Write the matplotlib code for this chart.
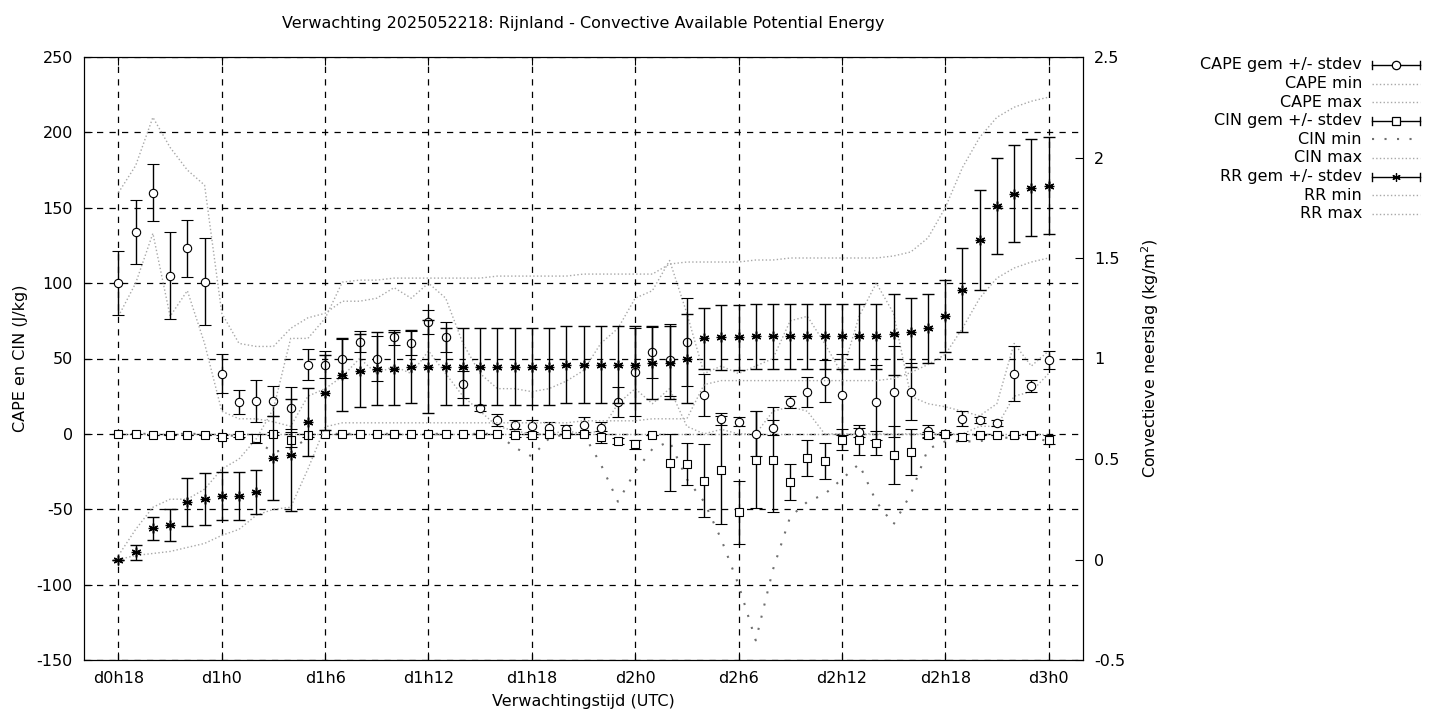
import matplotlib
matplotlib.use("Agg")
import matplotlib.pyplot as plt
from matplotlib.lines import Line2D
import numpy as np

hours = list(range(18, 73))

cape_mean = [100,134,160,105,123,101,40,21,22,22,17,46,46,50,61,50,64,60,74,64,
             33,17,9,6,5,4,3,6,4,21,41,54,49,61,26,10,8,0,4,21,28,35,26,1,21,28,28,
             2,0,10,9,7,40,32,49]
cape_sd = [21,21,19,29,19,29,13,8,14,10,14,10,9,13,7,15,5,8,8,10,
           9,2,4,3,4,4,3,5,4,10,29,17,24,29,14,4,3,15,5,4,10,14,27,3,25,30,19,
           4,1,5,2,2,18,4,6]
cape_min = [78,100,133,78,95,60,15,10,10,8,5,25,30,38,50,40,45,40,55,40,
            25,15,5,2,0,0,2,0,2,20,30,20,30,5,0,3,0,0,15,18,15,0,0,0,0,0,0,
            0,0,0,5,5,25,28,40]
cape_max = [160,178,210,190,175,165,80,60,58,58,70,77,80,88,88,90,97,90,100,90,
            60,40,30,30,28,30,35,42,60,70,90,95,115,80,40,45,40,45,50,75,78,60,40,78,100,80,
            25,20,18,15,12,20,60,45,55]

cin_mean = [0,0,-1,-1,-1,-1,-2,-1,-3,0,-4,-1,0,0,0,0,0,0,0,0,
            0,0,0,-1,-1,0,0,0,-2,-5,-7,-1,-19,-20,-31,-24,-52,-17,-17,-32,-16,-18,-4,-4,-6,-14,-12,
            -1,0,-2,-1,-1,-1,-1,-4]
cin_sd = [0,0,0,0,0,0,1,1,3,1,5,1,0,0,0,0,0,0,0,0,
          0,0,0,1,1,0,0,0,4,2,3,0,19,14,24,36,21,32,35,12,12,12,7,10,8,19,15,
          2,0,2,0,0,0,0,3]
cin_min = [0,0,0,0,0,0,0,-2,-5,-12,-10,-3,0,0,0,0,0,0,0,0,
           0,0,0,-9,-15,-3,0,0,-20,-45,-25,-10,-5,-30,-45,-70,-100,-137,-90,-55,-45,-40,-30,-20,-45,-60,-40,
           -10,-5,-5,-5,-2,-3,-2,-5]
cin_max = [0]*55

rr_mean = [0.0,0.037,0.155,0.17,0.286,0.30,0.315,0.315,0.334,0.505,0.52,0.685,0.83,0.92,0.94,0.95,0.95,0.96,0.96,0.96,
           0.96,0.96,0.96,0.96,0.96,0.96,0.97,0.97,0.97,0.97,0.97,0.98,0.98,1.0,1.1,1.105,1.105,1.11,1.11,1.11,1.11,1.11,1.11,1.11,1.11,1.12,1.13,
           1.15,1.21,1.34,1.59,1.76,1.82,1.85,1.86]
rr_sd = [0,0.037,0.058,0.079,0.12,0.13,0.12,0.12,0.11,0.21,0.28,0.17,0.185,0.18,0.18,0.18,0.18,0.18,0.23,0.19,
         0.19,0.19,0.19,0.19,0.19,0.19,0.19,0.19,0.19,0.19,0.19,0.18,0.18,0.22,0.15,0.16,0.16,0.16,0.16,0.16,0.16,0.16,0.16,0.16,0.16,0.2,0.17,
         0.17,0.18,0.21,0.25,0.24,0.24,0.24,0.24]
rr_min = [0,0.02,0.03,0.04,0.06,0.08,0.12,0.15,0.22,0.25,0.26,0.45,0.66,0.68,0.68,0.68,0.68,0.68,0.68,0.68,
          0.68,0.68,0.68,0.68,0.68,0.68,0.68,0.69,0.69,0.69,0.69,0.7,0.7,0.7,0.87,0.89,0.89,0.89,0.89,0.89,0.89,0.89,0.89,0.89,0.89,0.9,0.93,
          0.97,1.02,1.15,1.3,1.4,1.45,1.48,1.5]
rr_max = [0.02,0.15,0.26,0.3,0.3,0.35,0.45,0.5,0.6,0.75,1.1,1.1,1.2,1.38,1.39,1.39,1.4,1.4,1.4,1.4,
          1.4,1.4,1.41,1.41,1.41,1.41,1.41,1.42,1.42,1.42,1.42,1.42,1.47,1.48,1.48,1.48,1.48,1.49,1.49,1.5,1.5,1.5,1.5,1.5,1.5,1.51,1.53,
          1.6,1.75,1.95,2.1,2.2,2.25,2.28,2.3]

xtick_hours = [18,24,30,36,42,48,54,60,66,72]
xtick_labels = ["d0h18","d1h0","d1h6","d1h12","d1h18","d2h0","d2h6","d2h12","d2h18","d3h0"]

plt.rcParams['font.family'] = ['DejaVu Sans']
plt.rcParams['axes.unicode_minus'] = False
fig = plt.figure(figsize=(14.4, 7.2), dpi=100)
ax = fig.add_axes([84/1440, 60/720, 999/1440, 603/720])
ax2 = ax.twinx()

gray = '#a8a8a8'
ax.plot(hours, cape_min, ls=':', color=gray, lw=1, zorder=1)
ax.plot(hours, cape_max, ls=':', color=gray, lw=1, zorder=1)
ax.plot(hours, cin_min, ls=(0,(1,5)), color='#707070', lw=1.5, zorder=1)
ax.plot(hours, cin_max, ls=':', color=gray, lw=1, zorder=1)
ax2.plot(hours, rr_min, ls=':', color=gray, lw=1, zorder=1)
ax2.plot(hours, rr_max, ls=':', color=gray, lw=1, zorder=1)

ekw = dict(color='black', ecolor='black', elinewidth=1, capsize=4, capthick=1, ls='none')
ax.errorbar(hours, cape_mean, yerr=cape_sd, marker='o', ms=6, mfc='white', mec='black', mew=0.8, zorder=3, **ekw)
ax.errorbar(hours, cin_mean, yerr=cin_sd, marker='s', ms=6, mfc='white', mec='black', mew=0.8, zorder=3, **ekw)
ax2.errorbar(hours, rr_mean, yerr=rr_sd, marker=(6,2,0), ms=7, mec='black', mew=1, zorder=3, **ekw)
ax2.plot(hours, rr_mean, marker='+', ms=7, mec='black', mew=1, ls='none', zorder=4)

ax.set_xlim(16, 74)
ax.set_ylim(-150, 250)
ax.set_yticks(range(-150, 251, 50))
ax2.set_ylim(-0.5, 2.5)
ax2.set_yticks([-0.5,0,0.5,1,1.5,2,2.5])
ax2.set_yticklabels(["-0.5","0","0.5","1","1.5","2","2.5"])
ax.set_xticks(xtick_hours)
ax.set_xticklabels(xtick_labels)
ax.grid(True, color='black', ls=(0,(5,5)), lw=0.9)
ax.set_axisbelow(True)
for a in (ax, ax2):
    a.tick_params(direction='in', length=6, labelsize=11.5, top=True)
ax.tick_params(axis='y', right=False, pad=8)
ax2.tick_params(axis='y', pad=8)
ax.tick_params(axis='x', pad=8)

ax.set_xlabel("Verwachtingstijd (UTC)", fontsize=11.5, labelpad=6)
ax.set_ylabel("CAPE en CIN (J/kg)", fontsize=11.5, labelpad=6)
ax2.set_ylabel("Convectieve neerslag (kg/m$^2$)", fontsize=11.5, labelpad=10)
ax.set_title("Verwachting 2025052218: Rijnland - Convective Available Potential Energy", fontsize=11.5, pad=21)

# legend
labels = ["CAPE gem +/- stdev","CAPE min","CAPE max","CIN gem +/- stdev","CIN min","CIN max",
          "RR gem +/- stdev","RR min","RR max"]
kinds = ['eo','d','d','es','dc','d','ea','d','d']
x_text = 1362/1440; x0 = 1372/1440; x1 = 1420/1440; xm = (x0+x1)/2
for i, (lab, k) in enumerate(zip(labels, kinds)):
    yy = 1 - (65 + i*18.6)/720
    fig.text(x_text, yy, lab, ha='right', va='center', fontsize=11.5)
    if k.startswith('e'):
        fig.add_artist(Line2D([x0,x1],[yy,yy], color='black', lw=1, transform=fig.transFigure))
        for xe in (x0, x1):
            fig.add_artist(Line2D([xe,xe],[yy-4/720,yy+4/720], color='black', lw=1, transform=fig.transFigure))
        m = {'o':'o','s':'s','a':(6,2,0)}[k[1]]
        fig.add_artist(Line2D([xm],[yy], marker=m, ms=6, mfc='white', mec='black', mew=0.9, ls='none', transform=fig.transFigure))
    elif k == 'dc':
        fig.add_artist(Line2D([x0,x1],[yy,yy], color='#707070', lw=1.5, ls=(0,(1,5)), transform=fig.transFigure))
    else:
        fig.add_artist(Line2D([x0,x1],[yy,yy], color=gray, lw=1, ls=':', transform=fig.transFigure))

fig.savefig("out.png", dpi=100)
